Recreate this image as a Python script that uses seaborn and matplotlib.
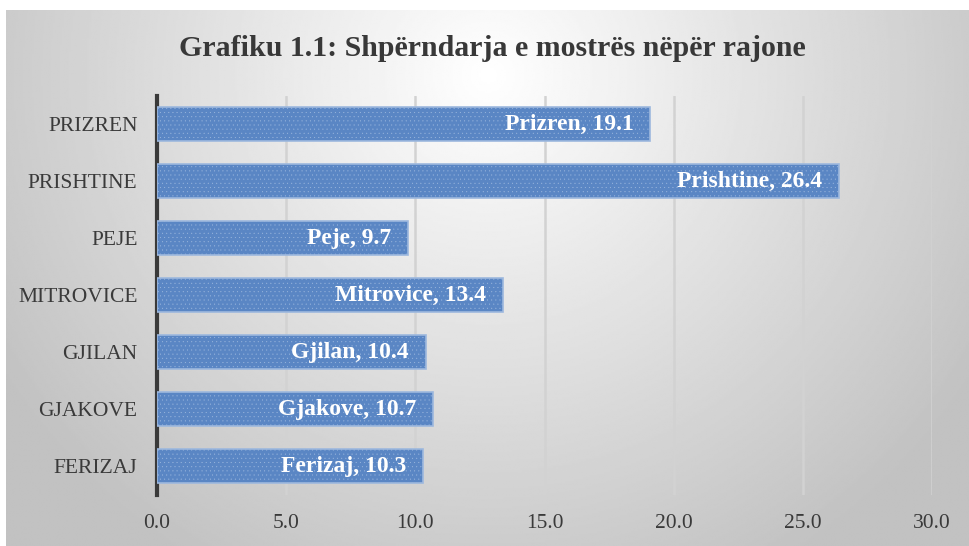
import numpy as np
import pandas as pd
import matplotlib
matplotlib.use("Agg")
import matplotlib.pyplot as plt
import seaborn as sns

# Data (top to bottom)
regions = ["PRIZREN", "PRISHTINE", "PEJE", "MITROVICE", "GJILAN", "GJAKOVE", "FERIZAJ"]
names = ["Prizren", "Prishtine", "Peje", "Mitrovice", "Gjilan", "Gjakove", "Ferizaj"]
shares = [19.1, 26.4, 9.7, 13.4, 10.4, 10.7, 10.3]
x_ticks = [0, 5, 10, 15, 20, 25, 30]

df = pd.DataFrame({"Rajoni": regions, "Perqindja": shares})

sns.set_style("white")
plt.rcParams["font.family"] = ["Liberation Serif", "DejaVu Serif"]
plt.rcParams["hatch.linewidth"] = 0.2

fig = plt.figure(figsize=(9.69, 5.46), dpi=100)
fig.patch.set_facecolor("white")

# Radial grey gradient background (Excel style)
bg = fig.add_axes([6 / 969, 0, 1 - 6 / 969, 1 - 10 / 546], zorder=0)
h, w = 300, 540
yy, xx = np.mgrid[0:h, 0:w]
cx, cy = w * 0.5, h * 0.12
d = np.sqrt(((xx - cx) / (w * 0.62)) ** 2 + ((yy - cy) / (h * 1.1)) ** 2)
g = np.clip(1.0 - 0.25 * d, 0.76, 1.0)
bg.imshow(g, cmap="gray", vmin=0, vmax=1, aspect="auto", interpolation="bilinear")
bg.axis("off")

ax = fig.add_axes([157 / 969, 1 - 494.5 / 546, (932 - 157) / 969, (494.5 - 95.5) / 546], zorder=1)
ax.set_facecolor("none")

sns.barplot(data=df, x="Perqindja", y="Rajoni", orient="h", color="#5a86c4",
            width=0.6, saturation=1, edgecolor="#9db8de", linewidth=1.2,
            hatch="....", ax=ax, zorder=3)

for patch, name, val in zip(ax.patches, names, shares):
    ax.text(patch.get_width() - 0.65, patch.get_y() + patch.get_height() / 2,
            f"{name}, {val}", ha="right", va="center", color="white",
            fontsize=17, fontweight="bold", zorder=4)

ax.set_xlim(0, 30)
ax.set_ylim(6.5, -0.5)
ax.set_xticks(x_ticks)
ax.set_xticklabels([f"{t:.1f}" for t in x_ticks])
ax.xaxis.grid(True, color="#d2d2d2", linewidth=1.8, zorder=0)
ax.set_axisbelow(True)
ax.tick_params(axis="both", length=0, labelsize=15.5, colors="#3a3a3a")
ax.tick_params(axis="x", pad=14)
ax.tick_params(axis="y", pad=14)
ax.set_xlabel("")
ax.set_ylabel("")
for s in ["top", "right", "bottom"]:
    ax.spines[s].set_visible(False)
ax.spines["left"].set_color("#3a3a3a")
ax.spines["left"].set_linewidth(3)

fig.text(492 / 969, 1 - 49 / 546, "Grafiku 1.1: Shpërndarja e mostrës nëpër rajone",
         ha="center", va="center", fontsize=21.5, fontweight="bold", color="#383838")

fig.savefig("out.png", dpi=100)
